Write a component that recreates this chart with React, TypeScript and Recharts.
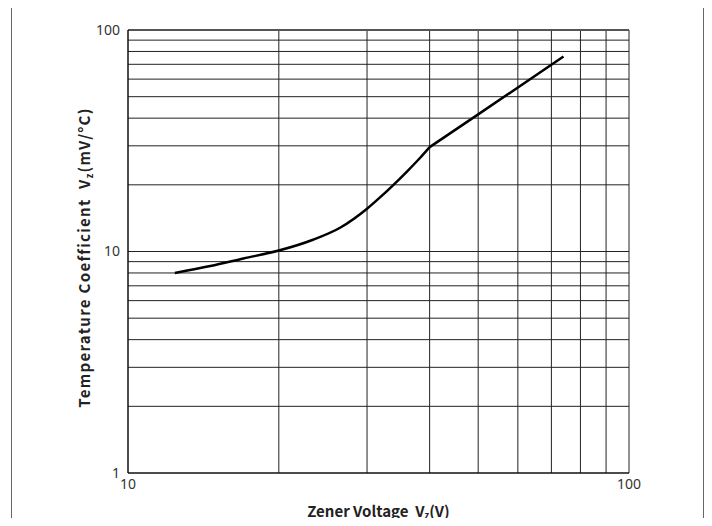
import { Line, LineChart, ReferenceLine, XAxis, YAxis } from "recharts";

// Zener voltage (V) vs temperature coefficient (mV/°C)
// the curved part up to the knee at 40 V
const curveVz = [12.4, 14.6, 17, 20, 23.4, 26.5, 30, 31.8, 33.8, 36, 38.3, 40];
const curveTc = [8.0, 8.6, 9.3, 10.1, 11.3, 12.8, 15.6, 17.5, 19.9, 22.9, 26.5, 29.6];
// the straight part above the knee
const straightVz = [40, 50, 74];
const straightTc = [29.6, 41.6, 75.9];

const xTicks = [10, 100];
const yTicks = [1, 10, 100];
const xGrid = [20, 30, 40, 50, 60, 70, 80, 90, 100];
const yGrid = [2, 3, 4, 5, 6, 7, 8, 9, 10, 20, 30, 40, 50, 60, 70, 80, 90];

const curveData = curveVz.map((v, i) => ({ vz: v, tc: curveTc[i] }));
const straightData = straightVz.map((v, i) => ({ vz: v, tc: straightTc[i] }));

const LABEL_FONT = "'Noto Sans CJK SC', 'Noto Sans', sans-serif";
const TICK_FONT = "'Noto Sans', sans-serif";

const renderXLabel = (props: any) => {
  const { x, width } = props.viewBox;
  return (
    <text
      x={x + width / 2}
      y={517}
      textAnchor="middle"
      fontFamily={LABEL_FONT}
      fontWeight={700}
      fontSize={15}
      fill="#222"
    >
      Zener Voltage{"\u00a0\u00a0"}V
      <tspan fontSize={9} dy={2}>z</tspan>
      <tspan dy={-2}>(V)</tspan>
    </text>
  );
};

const renderYLabel = (props: any) => {
  const { y, height } = props.viewBox;
  const cx = 90;
  const cy = y + height / 2 + 6;
  return (
    <text
      x={cx}
      y={cy}
      transform={`rotate(-90, ${cx}, ${cy})`}
      textAnchor="middle"
      fontFamily={LABEL_FONT}
      fontWeight={700}
      fontSize={15}
      letterSpacing={1.3}
      fill="#222"
    >
      Temperature{"\u00a0"}Coefficient{"\u00a0\u00a0"}V
      <tspan fontSize={9} dy={3}>z</tspan>
      <tspan dy={-3}>(mV/°C)</tspan>
    </text>
  );
};

export default function App() {
  return (
    <div style={{ position: "relative", margin: -8, width: 712, height: 526, overflow: "hidden", background: "#fff" }}>
      <div
        style={{
          position: "absolute",
          left: 11,
          top: 7,
          width: 691,
          height: 560,
          border: "1px solid #666",
        }}
      />
      <div style={{ position: "absolute", left: 0, top: 0 }}>
        <LineChart
          width={712}
          height={526}
          margin={{ top: 30, right: 83, bottom: 0, left: 0 }}
        >
          <XAxis
            dataKey="vz"
            type="number"
            scale="log"
            domain={[10, 100]}
            ticks={xTicks}
            allowDataOverflow
            height={53}
            tickLine={false}
            tickMargin={0}
            axisLine={{ stroke: "#111", strokeWidth: 1.5 }}
            tick={{ fontFamily: TICK_FONT, fontSize: 14, fill: "#333" }}
            label={{ content: renderXLabel }}
          />
          <YAxis
            dataKey="tc"
            type="number"
            scale="log"
            domain={[1, 100]}
            ticks={yTicks}
            allowDataOverflow
            width={128}
            tickLine={false}
            axisLine={{ stroke: "#111", strokeWidth: 1.5 }}
            tick={{ fontFamily: TICK_FONT, fontSize: 14, fill: "#333" }}
            label={{ content: renderYLabel }}
          />
          {xGrid.map((v) => (
            <ReferenceLine key={`x-${v}`} x={v} stroke="#222" strokeWidth={1} />
          ))}
          {yGrid.map((v) => (
            <ReferenceLine key={`y-${v}`} y={v} stroke="#222" strokeWidth={1} />
          ))}
          <ReferenceLine y={100} stroke="#555" strokeWidth={2} />
          <Line
            data={curveData}
            dataKey="tc"
            type="monotone"
            stroke="#000"
            strokeWidth={2.5}
            dot={false}
            isAnimationActive={false}
          />
          <Line
            data={straightData}
            dataKey="tc"
            type="linear"
            stroke="#000"
            strokeWidth={2.5}
            dot={false}
            isAnimationActive={false}
          />
        </LineChart>
      </div>
    </div>
  );
}
